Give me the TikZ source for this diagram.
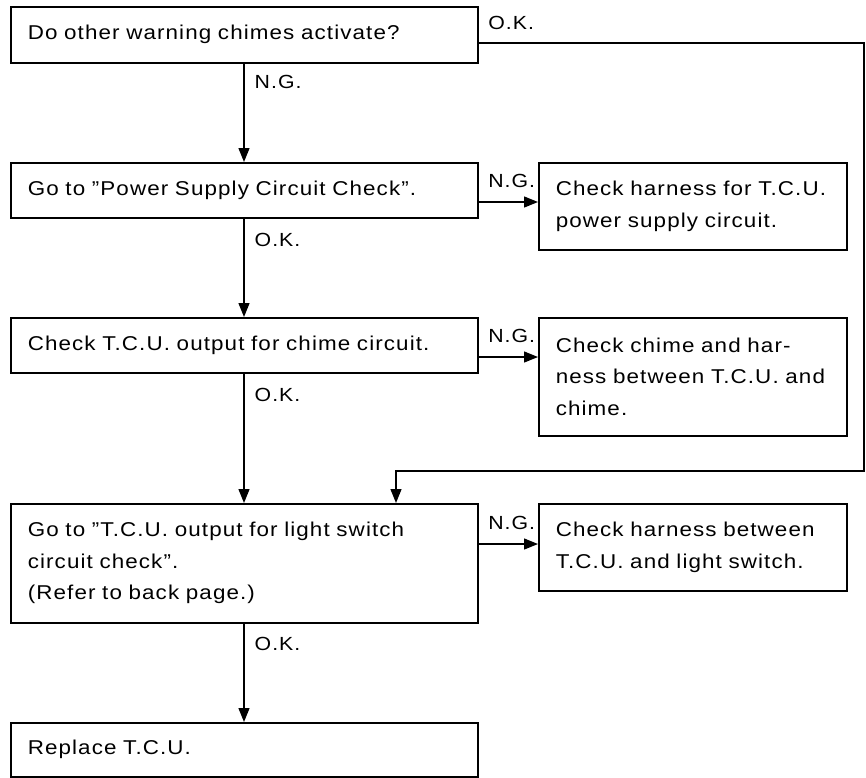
\documentclass[tikz,border=0pt]{standalone}
\usepackage{fontspec}
\setmainfont{Liberation Sans}[FakeStretch=1.12,LetterSpace=5.5]
\usepackage{tikz}
\usetikzlibrary{arrows.meta,positioning}

\begin{document}
\begin{tikzpicture}[x=1pt,y=-1pt,>={Triangle[length=14pt,width=11pt]},
  box/.style={draw,line width=1.6pt,rectangle,anchor=north west,align=left,
    inner xsep=17pt,inner ysep=0pt,font=\fontsize{20}{31.5}\selectfont},
  mainbox/.style={box,minimum width=467pt,text width=433pt},
  sidebox/.style={box,minimum width=308pt,text width=274pt},
  link/.style={line width=1.3pt},
  tag/.style={inner sep=0pt,anchor=base west,font=\fontsize{19}{22}\selectfont}]
  \useasboundingbox (0,0) rectangle (866,777);
  \node[mainbox,minimum height=56pt]  (chk)   at (10,6)    {Do other warning chimes activate?};
  \node[mainbox,minimum height=55pt]  (pwr)   at (10,162)  {Go to ''Power Supply Circuit Check''.};
  \node[sidebox,minimum height=87pt]  (pwrng) at (538,162) {Check harness for T.C.U.\\power supply circuit.};
  \node[mainbox,minimum height=55pt]  (out)   at (10,317)  {Check T.C.U. output for chime circuit.};
  \node[sidebox,minimum height=118pt] (outng) at (538,317) {Check chime and har-\\ness between T.C.U. and\\chime.};
  \node[mainbox,minimum height=119pt] (lsw)   at (10,503)  {Go to ''T.C.U. output for light switch\\circuit check''.\\(Refer to back page.)};
  \node[sidebox,minimum height=87pt]  (lswng) at (538,503) {Check harness between\\T.C.U. and light switch.};
  \node[mainbox,minimum height=54pt]  (rep)   at (10,722)  {Replace T.C.U.};
  \coordinate (spine)  at (244,0);
  \coordinate (okturn) at (864,471);
  \coordinate (okdrop) at (396,471);
  \draw[link,->] (chk.south -| spine) -- node[tag,pos=0,xshift=10pt,yshift=-25pt] {N.G.} (pwr.north -| spine);
  \draw[link,->] (pwr.south -| spine) -- node[tag,pos=0,xshift=10pt,yshift=-28pt] {O.K.} (out.north -| spine);
  \draw[link,->] (out.south -| spine) -- node[tag,pos=0,xshift=10pt,yshift=-28pt] {O.K.} (lsw.north -| spine);
  \draw[link,->] (lsw.south -| spine) -- node[tag,pos=0,xshift=10pt,yshift=-27pt] {O.K.} (rep.north -| spine);
  \draw[link,->] ([yshift=-40pt]pwr.north east) -- node[tag,pos=0,xshift=9pt,yshift=15pt] {N.G.} ([yshift=-40pt]pwrng.north west);
  \draw[link,->] ([yshift=-40pt]out.north east) -- node[tag,pos=0,xshift=9pt,yshift=15pt] {N.G.} ([yshift=-40pt]outng.north west);
  \draw[link,->] ([yshift=-41pt]lsw.north east) -- node[tag,pos=0,xshift=9pt,yshift=15pt] {N.G.} ([yshift=-41pt]lswng.north west);
  \draw[link,->] ([yshift=-37pt]chk.north east) -| node[tag,pos=0,xshift=9pt,yshift=14pt] {O.K.} (okturn) -- (okdrop) -- (okdrop |- lsw.north);
\end{tikzpicture}
\end{document}
